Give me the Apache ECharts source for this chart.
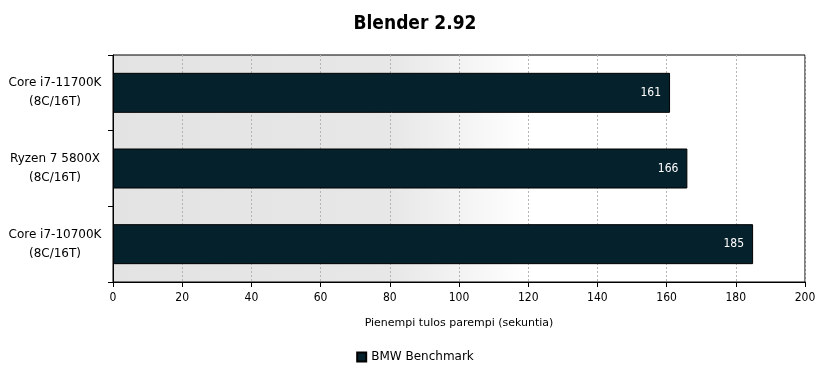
<!DOCTYPE html>
<html>
<head>
<meta charset="utf-8">
<script src="https://cdn.jsdelivr.net/npm/echarts@6/dist/echarts.min.js"></script>
<style>
  html, body { margin: 0; padding: 0; background: #fff; }
  #chart { width: 830px; height: 378px; }
</style>
</head>
<body>
<div id="chart"></div>
<script>
let cpus = ['Core i7-11700K\n(8C/16T)', 'Ryzen 7 5800X\n(8C/16T)', 'Core i7-10700K\n(8C/16T)'];
let bmwSeconds = [161, 166, 185];
let xTicks = [0, 20, 40, 60, 80, 100, 120, 140, 160, 180, 200];

let chart = echarts.init(document.getElementById('chart'), null, { renderer: 'canvas' });
let font = '"DejaVu Sans Condensed", "Liberation Sans", sans-serif';
let wideFont = '"DejaVu Sans", "Noto Sans", sans-serif';

let option = {
    backgroundColor: '#fff',
    animation: false,
    title: {
        text: 'Blender 2.92',
        left: 'center',
        top: 10,
        textStyle: { fontFamily: font, fontSize: 19, fontWeight: 'bold', color: '#000' }
    },
    legend: {
        bottom: 10,
        left: 'center',
        itemWidth: 9,
        itemHeight: 9,
        itemGap: 4,
        icon: 'rect',
        textStyle: { fontFamily: wideFont, fontSize: 12, color: '#000' },
        data: ['BMW Benchmark']
    },
    grid: {
        left: 113,
        right: 25,
        top: 55,
        bottom: 96,
        show: true,
        borderColor: '#000',
        borderWidth: 1,
        backgroundColor: new echarts.graphic.LinearGradient(0, 0, 1, 0, [
            { offset: 0, color: '#e3e3e3' },
            { offset: 0.4, color: '#e7e7e7' },
            { offset: 0.6, color: '#ffffff' },
            { offset: 1, color: '#ffffff' }
        ])
    },
    xAxis: {
        type: 'value',
        min: xTicks[0],
        max: xTicks[xTicks.length - 1],
        interval: 20,
        name: 'Pienempi tulos parempi (sekuntia)',
        nameLocation: 'middle',
        nameGap: 36,
        nameTextStyle: { fontFamily: wideFont, fontSize: 11, color: '#000' },
        axisLine: { show: true, lineStyle: { color: '#000', width: 1 } },
        axisTick: { show: true, length: 5, lineStyle: { color: '#000' } },
        axisLabel: { fontFamily: font, fontSize: 12, color: '#000', margin: 10 },
        splitLine: { show: true, lineStyle: { color: '#b4b4b4', type: [2, 2] } }
    },
    yAxis: {
        type: 'category',
        inverse: true,
        data: cpus,
        axisLine: { show: true, lineStyle: { color: '#000', width: 1 } },
        axisTick: { show: true, length: 5, alignWithLabel: false, lineStyle: { color: '#000' } },
        axisLabel: { fontFamily: wideFont, fontSize: 12, color: '#000', align: 'center', margin: 58, lineHeight: 19 },
        splitLine: { show: false }
    },
    series: [{
        name: 'BMW Benchmark',
        type: 'bar',
        data: bmwSeconds,
        barWidth: 40,
        itemStyle: { color: '#05212c', borderColor: '#000', borderWidth: 1 },
        label: {
            show: true,
            position: 'insideRight',
            distance: 9,
            fontFamily: font,
            fontSize: 12,
            color: '#fff'
        }
    }]
};

chart.setOption(option);
</script>
</body>
</html>
